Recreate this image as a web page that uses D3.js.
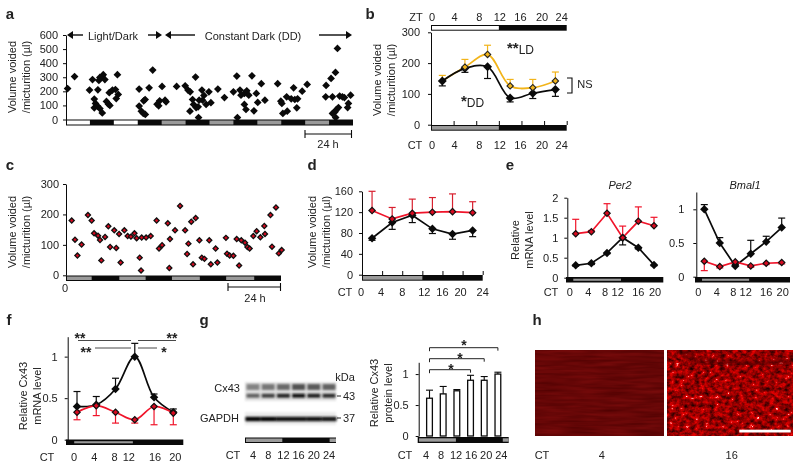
<!DOCTYPE html>
<html>
<head>
<meta charset="utf-8">
<script src="https://cdn.jsdelivr.net/npm/d3@7/dist/d3.min.js"></script>
<style>
html,body{margin:0;padding:0;background:#fff}
svg{display:block;filter:blur(0.35px)}
text{font-family:"Liberation Sans",Arial,sans-serif;fill:#222}
</style>
</head>
<body>
<svg id="fig" width="800" height="468"></svg>
<script>
// ---------- data ----------
const aHours=[0.8,4.3,11.8,13.3,16,16.5,18,18.7,19.5,17,14.2,14.8,14.2,15.8,17,18.2,20.3,21.3,22,21.7,23.3,24.8,25.8,26.2,25.2,36.7,36.7,37.8,38.8,39.8,39,39.7,41.7,43.5,45.7,46.5,47,48.2,49.7,50.2,55.5,59.8,61.2,62.3,65,63.5,62.2,66.8,64,65.3,66.3,68.2,69.2,68.5,70.3,71.7,72.7,66.5,76.2,79.5,84,85.7,86,87.3,87.8,89.5,90.3,89.5,90.7,91.7,93.3,94.3,95.5,96.2,98,99.8,106.2,107.8,108.3,108.8,111,110.7,113,114.2,114.8,115.8,116.2,118.5,121,130.5,130.3,133,133.7,135.2,136.2,133.7,135,135.7,136.7,137.3,138.7,139.7,141.7,141.3,142.8,135.3];
const aVolume=[220,305,209,284,211,277,303,318,284,299,145,114,83,95,78,47,128,109,100,190,209,213,318,178,149,216,95,59,43,36,133,142,225,351,109,97,133,235,137,126,235,239,209,197,301,142,59,137,107,85,90,209,171,137,107,197,119,14,216,156,197,308,14,209,173,107,71,185,204,173,310,62,185,121,254,137,254,130,114,43,59,161,147,225,142,83,147,201,249,242,161,292,161,334,505,43,55,71,85,166,161,156,114,85,173,14];
const aBoundaries=[0,12,24,36,48,60,72,84,96,108,120,132,144];
const aPhases=["white","black","white","black","gray","black","gray","black","gray","black","gray","black"];

const cHours=[2.6,4.1,5.2,7.1,10,11.7,12.8,14.6,15.5,16.1,17.8,19.3,20.1,22,22.9,24.2,24.9,26.6,28.1,29.6,31.2,32.2,33.6,34.2,34.5,36.5,38.6,41.3,42.4,43.8,46.4,47.1,47.4,49.7,52,54.3,55.8,55.2,57.1,59.1,57.9,60.8,61.9,63.1,65.3,66,68.2,69,72.9,73.4,74.6,76.3,77.8,78.9,79.9,81.6,82.7,83.7,85.4,86.9,88.6,90.4,90.7,93.2,93.9,95.7,97,98.3];
const cVolume=[180,117,65,101,198,180,138,130,116,49,126,161,93,148,90,136,42,148,129,127,138,122,58,16,124,124,129,180,88,99,171,24,119,148,228,148,104,70,176,188,36,115,58,54,115,36,88,42,123,71,65,64,119,32,115,107,93,88,129,145,125,162,136,198,94,223,72,83];
const cBoundaries=[0,11.7,24.3,36.3,48.3,61,73,85.8,98];
const cPhases=["gray","black","gray","black","gray","black","gray","black"];

const ct6Long=[2,6,10,14,18,22];
const bDD=[142,183,188,87,102,114];
const bDDlow=[126,170,150,74,85,92];
const bLD=[142,187,228,126,120,142];
const bLDup=[160,212,258,147,147,171];
const hourTicks=[0,4,8,12,16,20,24];

const dKO=[123,107,118,120,121,119];
const dKOup=[160,129,145,148,155,140];
const dWT=[70,100,114,88,78,85];
const dWTlow=[66,87,100,79,68,73];

const ctShort=[0,4,8,12,16,20];
const per2KO=[1.1,1.15,1.61,1.0,1.41,1.3];
const per2KOup=[1.46,1.18,1.85,1.29,1.77,1.51];
const per2WT=[0.31,0.36,0.62,1.0,0.75,0.32];
const per2WTlow=[0.29,0.33,0.6,0.82,0.72,0.3];
const bmalWT=[1,0.5,0.16,0.34,0.52,0.73];
const bmalWTup=[1.07,0.58,0.18,0.54,0.6,0.87];
const bmalKO=[0.23,0.15,0.22,0.16,0.2,0.21];
const bmalKOlow=[0.09,0.13,0.2,0.14,0.18,0.19];

const cx43WT=[0.4,0.42,0.61,1,0.51,0.33];
const cx43WTup=[0.58,0.52,0.74,1.16,0.55,0.37];
const cx43KO=[0.33,0.41,0.33,0.24,0.4,0.32];
const cx43KOlow=[0.24,0.29,0.2,0.2,0.18,0.18];

const gCT=[4,8,12,16,20,24];
const protein=[0.61,0.68,0.73,0.9,0.9,1];
const proteinUp=[0.74,0.8,0.75,0.98,0.96,1.03];
const blotUpper=[0.45,0.5,0.55,0.65,0.62,0.58];
const blotLower=[0.6,0.75,0.85,0.95,0.88,0.82];
const blotGapdh=[1,1,0.97,0.95,0.95,0.9];

// ---------- helpers ----------
const svg=d3.select("#fig");
const FS=11, BLACK="#0a0a0a", RED="#d8091f", LINERED="#f0142a", YEL="#f2b41a", GRAY="#9a9a9a";
const defs=svg.append("defs");

function label(x,y,t,o={}){
  const e=svg.append("text").attr("x",x).attr("y",y).text(t)
    .attr("font-size",o.fs||FS).attr("text-anchor",o.anchor||"middle");
  if(o.weight)e.attr("font-weight",o.weight);
  if(o.italic)e.attr("font-style","italic");
  return e;
}
function vlabel(x,yc,t,fs){
  svg.append("text").attr("transform",`translate(${x},${yc}) rotate(-90)`).text(t)
    .attr("text-anchor","middle").attr("font-size",fs||FS);
}
function yAxis(x0,y,ticks,fmt,pad){
  const g=svg.append("g").attr("transform",`translate(${x0},0)`)
    .call(d3.axisLeft(y).tickValues(ticks).tickSize(3).tickSizeOuter(0).tickPadding(pad).tickFormat(fmt||d3.format("d")));
  g.selectAll("path,line").attr("stroke",BLACK).attr("stroke-width",1);
  g.selectAll("text").attr("font-size",FS);
  g.attr("font-family",null);
  return g;
}
function xTicksUp(x,ticks,y0){
  const g=svg.append("g").attr("transform",`translate(0,${y0})`)
    .call(d3.axisTop(x).tickValues(ticks).tickSize(4).tickSizeOuter(0).tickFormat(""));
  g.select("path").remove();
  g.selectAll("line").attr("stroke",BLACK).attr("stroke-width",1);
}
function xLabels(x,vals,y,nudge,head,headX){
  svg.append("g").selectAll("text").data(vals).join("text")
    .attr("x",(d,i)=>x(d)+(nudge?nudge[i]:0)).attr("y",y)
    .attr("text-anchor","middle").attr("font-size",FS).text(d=>d);
  if(head)label(headX,y,head);
}
// phase strip: black frame, coloured insets
function strip(x,bounds,phases,y0,h,inset){
  svg.append("rect").attr("x",x(bounds[0])).attr("y",y0)
    .attr("width",x(bounds[bounds.length-1])-x(bounds[0])).attr("height",h).attr("fill",BLACK);
  svg.append("g").selectAll("rect").data(phases.map((p,i)=>({p,a:bounds[i],b:bounds[i+1]})).filter(d=>d.p!=="black")).join("rect")
    .attr("x",d=>x(d.a)+(d.a===bounds[0]?inset:0)).attr("y",y0+inset)
    .attr("width",d=>x(d.b)-x(d.a)-(d.a===bounds[0]?inset:0)).attr("height",h-2*inset)
    .attr("fill",d=>d.p==="white"?"#fff":GRAY);
}
function diamonds(x,y,xs,ys,fill,size,stroke,sw){
  const sym=d3.symbol(d3.symbolSquare,size)();
  svg.append("g").selectAll("path").data(xs.map((v,i)=>[v,ys[i]])).join("path")
    .attr("d",sym).attr("transform",d=>`translate(${x(d[0])},${y(d[1])}) rotate(45)`)
    .attr("fill",fill).attr("stroke",stroke||"none").attr("stroke-width",sw||0);
}
function errs(x,y,xs,ys,ends,color,cap,sw){
  const g=svg.append("g").attr("stroke",color).attr("stroke-width",sw||1.2).attr("fill","none");
  xs.forEach((v,i)=>{
    g.append("line").attr("x1",x(v)).attr("x2",x(v)).attr("y1",y(ys[i])).attr("y2",y(ends[i]));
    g.append("line").attr("x1",x(v)-cap).attr("x2",x(v)+cap).attr("y1",y(ends[i])).attr("y2",y(ends[i]));
  });
}
function curve(x,y,xs,ys,color,smooth,sw){
  const l=d3.line().x(d=>x(d[0])).y(d=>y(d[1]));
  if(smooth)l.curve(d3.curveCatmullRom.alpha(0.5));
  svg.append("path").attr("d",l(xs.map((v,i)=>[v,ys[i]]))).attr("fill","none")
    .attr("stroke",color).attr("stroke-width",sw||1.7);
}
function arrow(x1,x2,y){
  const dir=x2>x1?1:-1;
  svg.append("line").attr("x1",x1).attr("x2",x2-dir*3).attr("y1",y).attr("y2",y).attr("stroke",BLACK).attr("stroke-width",1.4);
  svg.append("path").attr("d",d3.line()([[x2,y],[x2-dir*6,y-4],[x2-dir*6,y+4]])).attr("fill",BLACK);
}
function starLabel(x,y,stars,rest){
  const t=svg.append("text").attr("x",x).attr("y",y).attr("font-size",FS+1);
  t.append("tspan").attr("font-size",15).attr("font-weight","bold").text(stars);
  if(rest)t.append("tspan").attr("font-size",FS+1).attr("dy",1).text(rest);
}
function stars(x,y,s){ label(x,y,s,{fs:14,weight:"bold"}); }
function bar24(x1,x2,y){
  const g=svg.append("g").attr("stroke",BLACK).attr("stroke-width",1.1);
  g.append("line").attr("x1",x1).attr("x2",x2).attr("y1",y).attr("y2",y);
  g.append("line").attr("x1",x1).attr("x2",x1).attr("y1",y-4).attr("y2",y+4);
  g.append("line").attr("x1",x2).attr("x2",x2).attr("y1",y-4).attr("y2",y+4);
}
[["a",10,19],["b",370,19],["c",10,170],["d",312,170],["e",510,170],["f",9,325],["g",204,325],["h",537,325]]
  .forEach(p=>label(p[1],p[2],p[0],{fs:15,weight:"bold"}));

// ---------- a ----------
{
  const x=d3.scaleLinear().domain([0,144]).range([66,353]);
  const y=d3.scaleLinear().domain([0,600]).range([119.5,35]);
  strip(x,aBoundaries,aPhases,119.5,6,1);
  yAxis(66,y,[0,100,200,300,400,500,600],null,5);
  diamonds(x,y,aHours,aVolume,BLACK,30);
  vlabel(16,77,"Volume voided"); vlabel(30,77,"/micturition (µl)");
  arrow(83,67,35); label(113,39.5,"Light/Dark"); arrow(148,162,35);
  arrow(195,165,35); label(253,39.5,"Constant Dark (DD)"); arrow(319,352,35);
  bar24(305,351.5,134); label(328,148,"24 h");
}
// ---------- b ----------
{
  const x=d3.scaleLinear().domain([0,24]).range([431,566.7]);
  const y=d3.scaleLinear().domain([0,300]).range([124.7,32.3]);
  const nudge=[1,1,3,1,-1,-2,-5];
  strip(x,[0,12,24],["white","black"],25,5.7,1);
  strip(x,[0,12,24],["gray","black"],125,5.7,1);
  yAxis(431,y,[0,100,200,300],null,8);
  xTicksUp(x,hourTicks,125);
  xLabels(x,hourTicks,21,nudge,"ZT",416);
  xLabels(x,hourTicks,149,nudge,"CT",415);
  errs(x,y,ct6Long,bLD,bLDup,YEL,3.5);
  errs(x,y,ct6Long,bDD,bDDlow,BLACK,3.5);
  curve(x,y,ct6Long,bLD,YEL,true);
  curve(x,y,ct6Long,bDD,BLACK,true);
  diamonds(x,y,ct6Long,bDD,BLACK,40);
  diamonds(x,y,ct6Long.slice(1),bLD.slice(1),YEL,20,"#222",1.1);
  vlabel(381,80,"Volume voided"); vlabel(395,80,"/micturition (µl)");
  starLabel(507,53,"**","LD");
  starLabel(461,106,"*","DD");
  svg.append("path").attr("d",d3.line()([[567,78],[572,78],[572,93],[567,93]])).attr("fill","none").attr("stroke",BLACK).attr("stroke-width",1.1);
  label(585,88,"NS");
}
// ---------- c ----------
{
  const x=d3.scaleLinear().domain([0,98]).range([66,281]);
  const y=d3.scaleLinear().domain([0,300]).range([275.3,184]);
  strip(x,cBoundaries,cPhases,275.5,5.5,1);
  yAxis(66,y,[0,100,200,300],null,4);
  diamonds(x,y,cHours,cVolume,RED,13,"#111",1.3);
  vlabel(16,232,"Volume voided"); vlabel(30,232,"/micturition (µl)");
  label(65,292,"0");
  bar24(228,280.5,287); label(255,301.5,"24 h");
}
// ---------- d ----------
{
  const x=d3.scaleLinear().domain([0,24]).range([362,482.7]);
  const y=d3.scaleLinear().domain([0,160]).range([274.7,191.3]);
  strip(x,[0,12,24],["gray","black"],275,5.7,1);
  yAxis(362,y,[0,40,80,120,160],null,6);
  xTicksUp(x,hourTicks,275);
  xLabels(x,hourTicks,296,[-1,-1,0,2,0,-2,0],"CT",345);
  errs(x,y,ct6Long,dKO,dKOup,"#d8202f",3.5);
  errs(x,y,ct6Long,dWT,dWTlow,BLACK,3.5);
  curve(x,y,ct6Long,dKO,LINERED);
  curve(x,y,ct6Long,dWT,BLACK);
  diamonds(x,y,ct6Long,dWT,BLACK,36);
  diamonds(x,y,ct6Long,dKO,RED,20,"#111",1.2);
  vlabel(316,232,"Volume voided"); vlabel(330,232,"/micturition (µl)");
}
// ---------- e ----------
{
  const x=d3.scaleLinear().domain([0,20]).range([575.7,654]);
  const y=d3.scaleLinear().domain([0,2]).range([277.7,197.7]);
  const sx=d3.scaleLinear().domain([0,1]).range([566,663.3]);
  strip(sx,[0,0.075,0.565,1],["black","gray","black"],277,5.5,1.7);
  yAxis(567.3,y,[0,0.5,1,1.5,2],d3.format("~g"),6);
  errs(x,y,ctShort,per2KO,per2KOup,LINERED,3.5);
  errs(x,y,ctShort,per2WT,per2WTlow,BLACK,3.5);
  curve(x,y,ctShort,per2KO,LINERED);
  curve(x,y,ctShort,per2WT,BLACK);
  diamonds(x,y,ctShort,per2WT,BLACK,36);
  diamonds(x,y,ctShort,per2KO,RED,20,"#111",1.2);
  xLabels(x,ctShort,296,[-6,-3,-2,-5,0,1],"CT",551);
  label(620,189,"Per2",{italic:true});
  vlabel(519,240,"Relative"); vlabel(533,240,"mRNA level");

  const x2=d3.scaleLinear().domain([0,20]).range([704.3,781.7]);
  const y2=d3.scaleLinear().domain([0,1.257]).range([276.7,192]);
  strip(sx.copy().range([695,790]),[0,0.074,0.57,1],["black","gray","black"],277,5.5,1.7);
  yAxis(696.3,y2,[0,0.5,1],d3.format("~g"),9);
  errs(x2,y2,ctShort,bmalWT,bmalWTup,BLACK,3.5);
  errs(x2,y2,ctShort,bmalKO,bmalKOlow,LINERED,3.5);
  curve(x2,y2,ctShort,bmalWT,BLACK);
  curve(x2,y2,ctShort,bmalKO,LINERED);
  diamonds(x2,y2,ctShort,bmalWT,BLACK,36);
  diamonds(x2,y2,ctShort,bmalKO,RED,20,"#111",1.2);
  xLabels(x2,ctShort,296,[-6,-3,-2,-5,0,1]);
  label(745,189,"Bmal1",{italic:true});
}
// ---------- f ----------
{
  const x=d3.scaleLinear().domain([0,20]).range([77,173.3]);
  const y=d3.scaleLinear().domain([0,1.24]).range([439.7,336.7]);
  const sx=d3.scaleLinear().domain([0,1]).range([66,183.3]);
  strip(sx,[0,0.07,0.57,1],["black","gray","black"],439.5,5.5,1.7);
  yAxis(67.7,y,[0,0.5,1],d3.format("~g"),7);
  errs(x,y,ctShort,cx43WT,cx43WTup,BLACK,3.5);
  errs(x,y,ctShort,cx43KO,cx43KOlow,LINERED,3.5);
  curve(x,y,ctShort,cx43WT,BLACK,true);
  curve(x,y,ctShort,cx43KO,LINERED,true);
  diamonds(x,y,ctShort,cx43WT,BLACK,36);
  diamonds(x,y,ctShort,cx43KO,RED,20,"#111",1.2);
  xLabels(x,ctShort,461,[-3,-2,-1,-6,1,2],"CT",47);
  vlabel(27,396,"Relative Cx43"); vlabel(41,396,"mRNA level");
  const sig=svg.append("g").attr("stroke","#333").attr("stroke-width",0.9);
  [[78,131,340.5],[138,176,340.5],[95,131,348],[138,157,348]].forEach(s=>
    sig.append("line").attr("x1",s[0]).attr("x2",s[1]).attr("y1",s[2]).attr("y2",s[2]));
  stars(80,343,"**"); stars(172,343,"**"); stars(86,357,"**"); stars(164,357,"*");
}
// ---------- g blot ----------
{
  const blur=defs.append("filter").attr("id","soft").attr("x","-20%").attr("y","-80%").attr("width","140%").attr("height","260%");
  blur.append("feGaussianBlur").attr("stdDeviation",1.1);
  const lane=d3.scaleLinear().domain([4,24]).range([253,329]);
  const shade=d3.scaleLinear().domain([0,1]).range(["#eeeeee","#000000"]);
  svg.append("rect").attr("x",245).attr("y",382).attr("width",91).attr("height",19).attr("fill","#e2e2e2").attr("filter","url(#soft)");
  svg.append("rect").attr("x",245).attr("y",412).attr("width",91).attr("height",13).attr("fill","#ececec").attr("filter","url(#soft)");
  const rows=[[blotUpper,387,6,13],[blotLower,395.7,4,13],[blotGapdh,419,4.4,15.2]];
  rows.forEach(r=>{
    svg.append("g").attr("filter","url(#soft)").selectAll("rect").data(gCT).join("rect")
      .attr("x",d=>lane(d)-r[3]/2).attr("y",r[1]-r[2]/2).attr("width",r[3]).attr("height",r[2])
      .attr("fill",(d,i)=>shade(r[0][i]));
  });
  label(240,392,"Cx43",{anchor:"end"}); label(239,422,"GAPDH",{anchor:"end"});
  label(345,381,"kDa"); label(349,400,"43"); label(349,422,"37");
  svg.append("line").attr("x1",337).attr("x2",341).attr("y1",396).attr("y2",396).attr("stroke","#222");
  svg.append("line").attr("x1",337).attr("x2",341).attr("y1",418).attr("y2",418).attr("stroke","#222");
  const sx=d3.scaleLinear().domain([0,1]).range([245,336]);
  strip(sx,[0,0.41,0.93,1],["gray","black","gray"],437.5,5.5,1);
  xLabels(lane,gCT,459,[0,0,0,0,0,0],"CT",233);
}
// ---------- g bars ----------
{
  const x=d3.scaleBand().domain(gCT).range([418.7,508.7]).padding(0.58);
  const y=d3.scaleLinear().domain([0,1.19]).range([436,362.3]);
  const cx=d=>x(d)+x.bandwidth()/2;
  const sx=d3.scaleLinear().domain([0,1]).range([417.7,508.7]);
  strip(sx,[0,0.42,0.935,1],["gray","black","gray"],437,6,1.3);
  yAxis(418.7,y,[0,0.5,1],d3.format("~g"),7);
  const data=gCT.map((c,i)=>({c,v:protein[i],u:proteinUp[i]}));
  svg.append("g").selectAll("line").data(data).join("line")
    .attr("x1",d=>cx(d.c)).attr("x2",d=>cx(d.c)).attr("y1",d=>y(d.v)).attr("y2",d=>y(d.u)).attr("stroke",BLACK).attr("stroke-width",1.1);
  svg.append("g").selectAll("line").data(data).join("line")
    .attr("x1",d=>cx(d.c)-3.5).attr("x2",d=>cx(d.c)+3.5).attr("y1",d=>y(d.u)).attr("y2",d=>y(d.u)).attr("stroke",BLACK).attr("stroke-width",1.1);
  svg.append("g").selectAll("rect").data(data).join("rect")
    .attr("x",d=>x(d.c)).attr("y",d=>y(d.v)).attr("width",x.bandwidth()).attr("height",d=>y(0)-y(d.v))
    .attr("fill","#fff").attr("stroke",BLACK).attr("stroke-width",1.3);
  xLabels(d3.scaleLinear().domain([4,24]).range([426,501.3]),gCT,459,[0,0,0,0,0,0],"CT",405);
  vlabel(378,393,"Relative Cx43"); vlabel(392,393,"protein level");
  const g=svg.append("g").attr("fill","none").attr("stroke","#222").attr("stroke-width",1);
  [[16,369.7],[20,358.7],[24,347.7]].forEach(b=>{
    g.append("path").attr("d",d3.line()([[cx(4),b[1]+3.5],[cx(4),b[1]],[cx(b[0]),b[1]],[cx(b[0]),b[1]+3]]));
  });
  stars(451,373.7,"*"); stars(460,363,"*"); stars(464,349.7,"*");
}
// ---------- h ----------
{
  const f1=defs.append("filter").attr("id","tissueA").attr("x",0).attr("y",0).attr("width","100%").attr("height","100%").attr("color-interpolation-filters","sRGB");
  f1.append("feTurbulence").attr("type","fractalNoise").attr("baseFrequency","0.03 0.3").attr("numOctaves",2).attr("seed",4);
  f1.append("feColorMatrix").attr("values","0 0 0 0.2 0.3  0 0 0 0.05 0  0 0 0 0.05 0  0 0 0 0 1");

  const f2=defs.append("filter").attr("id","tissueB").attr("x",0).attr("y",0).attr("width","100%").attr("height","100%").attr("color-interpolation-filters","sRGB");
  f2.append("feTurbulence").attr("type","fractalNoise").attr("baseFrequency","0.2 0.24").attr("numOctaves",3).attr("seed",11);
  f2.append("feColorMatrix").attr("values","0 0 0 1.3 -0.05  0 0 0 6 -4.4  0 0 0 6 -4.4  0 0 0 0 1");
  f2.append("feGaussianBlur").attr("stdDeviation",0.4);

  svg.append("rect").attr("x",535.7).attr("y",350.7).attr("width",127.6).attr("height",84.6).attr("filter","url(#tissueA)");
  svg.append("rect").attr("x",667.7).attr("y",350.7).attr("width",125).attr("height",84.6).attr("filter","url(#tissueB)");
  const dark=defs.append("filter").attr("id","darkBlur"); dark.append("feGaussianBlur").attr("stdDeviation",2);
  defs.append("clipPath").attr("id","hClip").append("rect").attr("x",667.7).attr("y",350.7).attr("width",125).attr("height",84.6);
  svg.append("g").attr("clip-path","url(#hClip)").append("path")
    .attr("d",d3.line().curve(d3.curveBasis)([[680,350],[695,362],[730,364],[790,362]]))
    .attr("fill","none").attr("stroke","#4a0000").attr("stroke-width",5).attr("opacity",0.7).attr("filter","url(#darkBlur)");
  svg.append("rect").attr("x",739.3).attr("y",429.7).attr("width",51.4).attr("height",2.8).attr("fill","#fff");
  label(542,459,"CT"); label(601.7,459,"4"); label(731.7,459,"16");
}
</script>
</body>
</html>
